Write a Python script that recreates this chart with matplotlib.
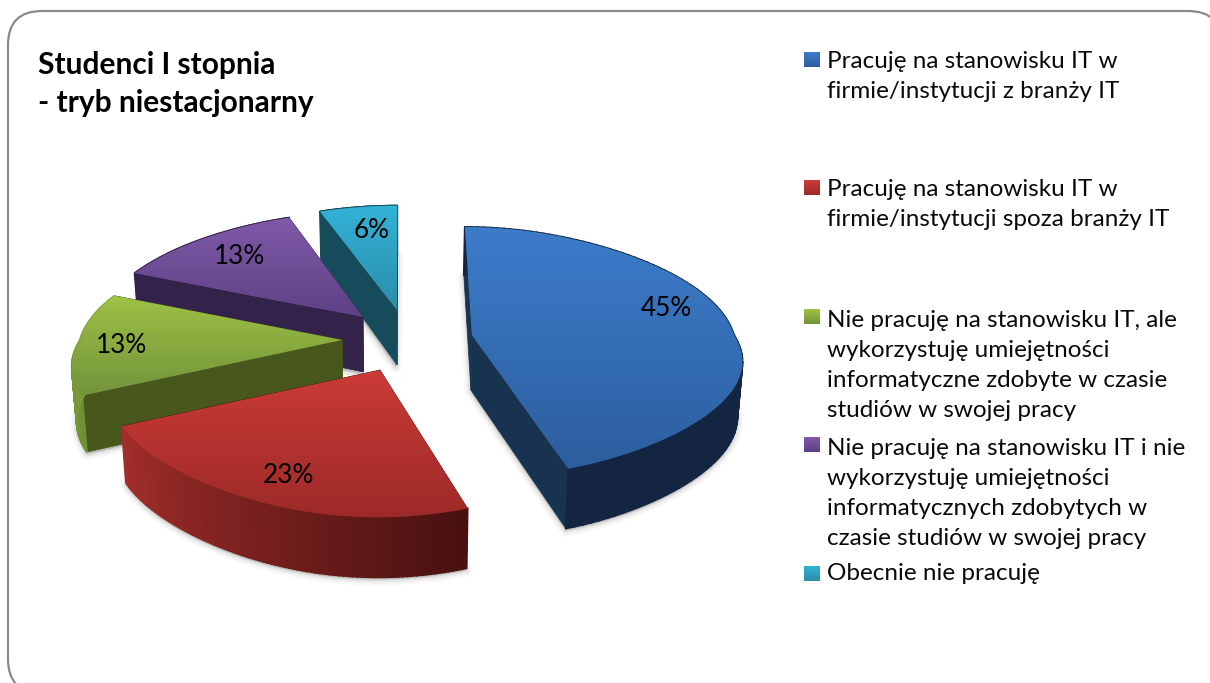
import numpy as np
import matplotlib
matplotlib.use("Agg")
import matplotlib.pyplot as plt
from matplotlib.patches import FancyBboxPatch, Polygon
from matplotlib.colors import to_rgb

# ---- data ----
labels = [
    "Pracuję na stanowisku IT w\nfirmie/instytucji z branży IT",
    "Pracuję na stanowisku IT w\nfirmie/instytucji spoza branży IT",
    "Nie pracuję na stanowisku IT, ale\nwykorzystuję umiejętności\ninformatyczne zdobyte w czasie\nstudiów w swojej pracy",
    "Nie pracuję na stanowisku IT i nie\nwykorzystuję umiejętności\ninformatycznych zdobytych w\nczasie studiów w swojej pracy",
    "Obecnie nie pracuję",
]
values = [45, 23, 13, 13, 6]
title = "Studenci I stopnia\n- tryb niestacjonarny"

# ---- style / layout ----
top_hi = ["#3D7CCB", "#CC3B37", "#9FC246", "#8059A8", "#33B3D8"]
top_lo = ["#2C5E9E", "#9C2A28", "#72933A", "#5E4185", "#2A8DA9"]
cut_col = ["#17334F", "#4A1210", "#48581C", "#33224A", "#164B5C"]
rim_a = ["#132540", "#471110", "#6F8F32", "#33224A", "#164B5C"]
rim_b = ["#132540", "#A32E2B", "#88A93C", "#33224A", "#164B5C"]
offsets = [(72, 7), (-20, 42), (-58, 12), (-37, -11), (-3, -18)]
pie_cx, pie_cy = 400, 328
label_xy = [(666, 307), (288, 474), (121, 344), (240, 255), (372, 229)]
legend_tops = [60, 188, 317, 445, 574]
LINE_STEP = 32.2
order = [4, 3, 2, 1, 0]

fig = plt.figure(figsize=(12.1, 6.83), dpi=100)
ax = fig.add_axes([0, 0, 1, 1])
ax.axis("off")
plt.rcParams["font.family"] = ["Lato", "DejaVu Sans"]

ax.add_patch(FancyBboxPatch((8, 11), 1214, 682, boxstyle="round,pad=0,rounding_size=34",
                            fc="white", ec="#8A8A8A", lw=1.6, zorder=0))


def project(theta, ox, oy):
    u, v = np.sin(theta), -np.cos(theta)
    A = np.where(v > 0, 262 + 72 * v - 45 * v ** 2, 262 + 30.4 * v - 27.4 * v ** 2)
    B = np.where(v > 0, 127 + 14 * v ** 2, 127 + 20 * v)
    x = pie_cx + ox + u * A + ox * 0.1 * v
    y = pie_cy + oy + v * B + oy * 0.15 * v * np.abs(v)
    return x, y, v


def depth(v):
    return 54 + 6 * v


def down(x, y, d):
    return x + (pie_cx - x) * 0.015, y + d


bounds = np.cumsum([0] + values) / sum(values) * 2 * np.pi
z = 2.0
for i in order:
    th = np.linspace(bounds[i], bounds[i + 1], 90)
    ox, oy = offsets[i]
    ax_, ay_ = pie_cx + ox, pie_cy + oy
    x, y, v = project(th, ox, oy)
    d = depth(v)
    xb, yb = down(x, y, d)
    axb, ayb = down(ax_, ay_, 55)

    # soft shadow from the underside
    sx = np.r_[ax_ - 1, xb]
    sy = np.r_[ayb + 2, yb + 2]
    for lw, al in [(9, 0.035), (6, 0.05), (3.5, 0.07), (1.5, 0.09)]:
        ax.add_patch(Polygon(np.c_[sx, sy], closed=True, fc="#555555", ec="#555555",
                             lw=lw, alpha=al, joinstyle="round", zorder=z))
    z += 0.01

    # the two cut walls
    for j in (0, -1):
        ax.fill([ax_, x[j], xb[j], axb], [ay_, y[j], yb[j], ayb],
                fc=cut_col[i], ec=cut_col[i], lw=0.5, zorder=z)
    z += 0.01

    # outer rim wall
    ca, cb = np.array(to_rgb(rim_a[i])), np.array(to_rgb(rim_b[i]))
    n = len(th) - 1
    for k in range(n):
        c = ca + (cb - ca) * k / (n - 1)
        ax.fill([x[k], x[k + 1], xb[k + 1], xb[k]], [y[k], y[k + 1], yb[k + 1], yb[k]],
                fc=c, ec=c, lw=1.3, zorder=z)
    z += 0.01

    # top face with vertical gradient
    px, py = np.r_[ax_, x], np.r_[ay_, y]
    poly = Polygon(np.c_[px, py], closed=True, transform=ax.transData, fc="none", ec="none")
    ax.add_patch(poly)
    hi, lo = np.array(to_rgb(top_hi[i])), np.array(to_rgb(top_lo[i]))
    t = np.linspace(0, 1, 256)[:, None, None]
    img = hi[None, None, :] * (1 - t) + lo[None, None, :] * t
    im = ax.imshow(img, extent=(px.min() - 1, px.max() + 1, py.max() + 1, py.min() - 1),
                   aspect="auto", origin="upper", zorder=z, interpolation="bilinear")
    im.set_clip_path(poly)
    z += 0.5

# percentage labels
for val, (lx, ly) in zip(values, label_xy):
    ax.text(lx, ly + 1.5, f"{val}%", ha="center", va="center", fontsize=18.8,
            color="black", zorder=20)

# legend
for i, (lab, ty) in enumerate(zip(labels, legend_tops)):
    nlines = lab.count("\n") + 1
    cy = ty + (nlines - 1) * LINE_STEP / 2
    ax.text(827, cy, lab, ha="left", va="center", fontsize=17.5, color="#0A0A0A",
            linespacing=1.53, zorder=20)
    hi, lo = np.array(to_rgb(top_hi[i])), np.array(to_rgb(top_lo[i]))
    t = np.linspace(0, 1, 32)[:, None, None]
    img = hi[None, None, :] * (1 - t) + lo[None, None, :] * t
    ax.imshow(img, extent=(804, 819.5, ty + 7.5, ty - 7.5), aspect="auto",
              origin="upper", zorder=20)

ax.text(38, 84, title, ha="left", va="center", fontsize=21.5, fontweight="bold",
        color="black", linespacing=1.42, zorder=20)

ax.set_xlim(0, 1210)
ax.set_ylim(683, 0)
fig.savefig("out.png", dpi=100, facecolor="white")
